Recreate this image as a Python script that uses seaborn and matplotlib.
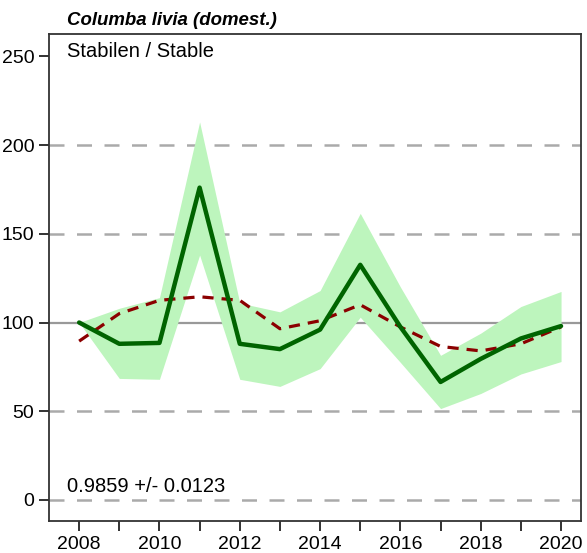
import numpy as np
import pandas as pd
import matplotlib
matplotlib.use("Agg")
import matplotlib.pyplot as plt
import seaborn as sns

sns.set_style("ticks")
plt.rcParams['font.family'] = ['Liberation Sans', 'DejaVu Sans']
plt.rcParams['text.color'] = 'black'
plt.rcParams['xtick.labelcolor'] = 'black'
plt.rcParams['ytick.labelcolor'] = 'black'

# data
years = [2008, 2009, 2010, 2011, 2012, 2013, 2014, 2015, 2016, 2017, 2018, 2019, 2020]
index = [100, 88, 88.5, 176, 88, 85, 96, 132.5, 97.5, 66.5, 79.5, 91, 98]
upper = [100, 108, 114, 213, 111, 106, 118, 161.5, 120, 81.5, 94, 109, 117.5]
lower = [100, 68.5, 68, 138, 68, 64, 74, 103, 77.5, 51.5, 60, 71, 78]
trend = [89.5, 105, 112.5, 114.5, 112.5, 96.5, 101, 110, 97.5, 86.5, 84, 88, 97.5]

df = pd.DataFrame({"year": years, "index": index, "trend": trend})

fig = plt.figure(figsize=(5.87, 5.53), dpi=100)
ax = fig.add_axes([0.0835, 0.058, 0.9065, 0.88])

# reference lines
for v in [0, 50, 150, 200]:
    ax.axhline(v, color="#aaaaaa", lw=1.8, ls=(0, (6, 5)), zorder=1)
ax.axhline(100, color="#999999", lw=1.6, zorder=1)

ax.fill_between(years, lower, upper, color="#bdf5bd", lw=0, zorder=2)
sns.lineplot(data=df, x="year", y="index", color="#006400", lw=3.2, ax=ax, zorder=4)
sns.lineplot(data=df, x="year", y="trend", color="#8b0000", lw=2.3, ax=ax, zorder=3,
             linestyle=(0, (3.5, 2.5)))

ax.set_xlim(2007.25, 2020.5)
ax.set_ylim(-11.8, 262.4)
ax.set_yticks([0, 50, 100, 150, 200, 250])
ax.set_xticks(range(2008, 2021, 2))
ax.set_xticks(range(2009, 2021, 2), minor=True)
ax.tick_params(axis="both", which="both", direction="out", length=7, width=1.3,
               labelsize=14, color="#222222")
ax.set_xlabel("")
ax.set_ylabel("")
for s in ax.spines.values():
    s.set_color("#333333")
    s.set_linewidth(1.3)

fig.text(0.114, 0.948, "Columba livia (domest.)", fontsize=13.4, fontweight="bold",
         fontstyle="italic", ha="left", va="bottom")
ax.text(0.033, 0.985, "Stabilen / Stable", transform=ax.transAxes, fontsize=14.5,
        ha="left", va="top")
ax.text(0.033, 0.052, "0.9859 +/- 0.0123", transform=ax.transAxes, fontsize=14.5,
        ha="left", va="bottom")

fig.savefig("out.png", dpi=100)
